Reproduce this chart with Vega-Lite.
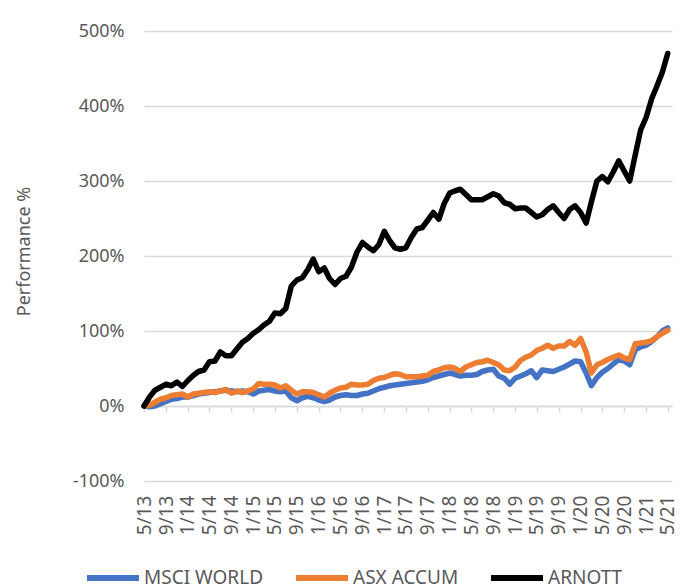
{
  "$schema": "https://vega.github.io/schema/vega-lite/v6.json",
  "autosize": {"type": "none"},
  "width": 528,
  "height": 450,
  "padding": {"left": 144, "top": 31, "right": 21, "bottom": 106},
  "background": "white",
  "config": {
    "view": {"stroke": null},
    "font": "Noto Sans"
  },
  "data": {
    "format": {"parse": {"d": "date:'%Y-%m'"}},
    "values": [
      {"d":"2013-05","msci":0,"asx":0,"arnott":0},
      {"d":"2013-06","msci":-1,"asx":1,"arnott":12},
      {"d":"2013-07","msci":0,"asx":5,"arnott":21},
      {"d":"2013-08","msci":3,"asx":9,"arnott":25},
      {"d":"2013-09","msci":6,"asx":11,"arnott":29},
      {"d":"2013-10","msci":9,"asx":14,"arnott":27},
      {"d":"2013-11","msci":10,"asx":15,"arnott":32},
      {"d":"2013-12","msci":12,"asx":16,"arnott":26},
      {"d":"2014-01","msci":12,"asx":12,"arnott":34},
      {"d":"2014-02","msci":14,"asx":16,"arnott":41},
      {"d":"2014-03","msci":16,"asx":17,"arnott":46},
      {"d":"2014-04","msci":17,"asx":18,"arnott":48},
      {"d":"2014-05","msci":18,"asx":19,"arnott":59},
      {"d":"2014-06","msci":19,"asx":18,"arnott":60},
      {"d":"2014-07","msci":20,"asx":20,"arnott":72},
      {"d":"2014-08","msci":21,"asx":22,"arnott":67},
      {"d":"2014-09","msci":20,"asx":17,"arnott":67},
      {"d":"2014-10","msci":19,"asx":20,"arnott":76},
      {"d":"2014-11","msci":20,"asx":18,"arnott":85},
      {"d":"2014-12","msci":19,"asx":20,"arnott":90},
      {"d":"2015-01","msci":16,"asx":23,"arnott":97},
      {"d":"2015-02","msci":20,"asx":30,"arnott":102},
      {"d":"2015-03","msci":21,"asx":29,"arnott":108},
      {"d":"2015-04","msci":22,"asx":29,"arnott":113},
      {"d":"2015-05","msci":20,"asx":28,"arnott":124},
      {"d":"2015-06","msci":19,"asx":24,"arnott":123},
      {"d":"2015-07","msci":20,"asx":27,"arnott":130},
      {"d":"2015-08","msci":11,"asx":21,"arnott":160},
      {"d":"2015-09","msci":7,"asx":16,"arnott":168},
      {"d":"2015-10","msci":11,"asx":19,"arnott":171},
      {"d":"2015-11","msci":13,"asx":19,"arnott":182},
      {"d":"2015-12","msci":11,"asx":18,"arnott":196},
      {"d":"2016-01","msci":8,"asx":15,"arnott":179},
      {"d":"2016-02","msci":6,"asx":12,"arnott":184},
      {"d":"2016-03","msci":8,"asx":17,"arnott":170},
      {"d":"2016-04","msci":12,"asx":21,"arnott":162},
      {"d":"2016-05","msci":14,"asx":24,"arnott":170},
      {"d":"2016-06","msci":15,"asx":25,"arnott":173},
      {"d":"2016-07","msci":14,"asx":29,"arnott":185},
      {"d":"2016-08","msci":14,"asx":28,"arnott":205},
      {"d":"2016-09","msci":16,"asx":28,"arnott":218},
      {"d":"2016-10","msci":17,"asx":29,"arnott":212},
      {"d":"2016-11","msci":20,"asx":34,"arnott":207},
      {"d":"2016-12","msci":23,"asx":37,"arnott":215},
      {"d":"2017-01","msci":25,"asx":38,"arnott":233},
      {"d":"2017-02","msci":27,"asx":41,"arnott":220},
      {"d":"2017-03","msci":28,"asx":43,"arnott":211},
      {"d":"2017-04","msci":29,"asx":42,"arnott":209},
      {"d":"2017-05","msci":30,"asx":39,"arnott":211},
      {"d":"2017-06","msci":31,"asx":39,"arnott":225},
      {"d":"2017-07","msci":32,"asx":39,"arnott":236},
      {"d":"2017-08","msci":33,"asx":40,"arnott":238},
      {"d":"2017-09","msci":35,"asx":41,"arnott":248},
      {"d":"2017-10","msci":38,"asx":46,"arnott":258},
      {"d":"2017-11","msci":40,"asx":48,"arnott":249},
      {"d":"2017-12","msci":42,"asx":51,"arnott":270},
      {"d":"2018-01","msci":44,"asx":52,"arnott":284},
      {"d":"2018-02","msci":42,"asx":50,"arnott":287},
      {"d":"2018-03","msci":40,"asx":46,"arnott":289},
      {"d":"2018-04","msci":41,"asx":52,"arnott":282},
      {"d":"2018-05","msci":41,"asx":55,"arnott":275},
      {"d":"2018-06","msci":42,"asx":58,"arnott":275},
      {"d":"2018-07","msci":46,"asx":59,"arnott":275},
      {"d":"2018-08","msci":48,"asx":61,"arnott":279},
      {"d":"2018-09","msci":49,"asx":58,"arnott":283},
      {"d":"2018-10","msci":40,"asx":55,"arnott":280},
      {"d":"2018-11","msci":37,"asx":48,"arnott":271},
      {"d":"2018-12","msci":29,"asx":47,"arnott":269},
      {"d":"2019-01","msci":37,"asx":52,"arnott":263},
      {"d":"2019-02","msci":40,"asx":61,"arnott":264},
      {"d":"2019-03","msci":43,"asx":65,"arnott":264},
      {"d":"2019-04","msci":47,"asx":68,"arnott":258},
      {"d":"2019-05","msci":38,"asx":74,"arnott":252},
      {"d":"2019-06","msci":48,"asx":77,"arnott":255},
      {"d":"2019-07","msci":47,"asx":81,"arnott":262},
      {"d":"2019-08","msci":46,"asx":77,"arnott":267},
      {"d":"2019-09","msci":49,"asx":80,"arnott":258},
      {"d":"2019-10","msci":52,"asx":80,"arnott":250},
      {"d":"2019-11","msci":56,"asx":86,"arnott":262},
      {"d":"2019-12","msci":60,"asx":81,"arnott":267},
      {"d":"2020-01","msci":59,"asx":90,"arnott":258},
      {"d":"2020-02","msci":44,"asx":72,"arnott":244},
      {"d":"2020-03","msci":27,"asx":44,"arnott":272},
      {"d":"2020-04","msci":38,"asx":55,"arnott":300},
      {"d":"2020-05","msci":45,"asx":58,"arnott":306},
      {"d":"2020-06","msci":50,"asx":62,"arnott":299},
      {"d":"2020-07","msci":56,"asx":65,"arnott":312},
      {"d":"2020-08","msci":62,"asx":68,"arnott":327},
      {"d":"2020-09","msci":60,"asx":64,"arnott":313},
      {"d":"2020-10","msci":55,"asx":62,"arnott":300},
      {"d":"2020-11","msci":75,"asx":83,"arnott":335},
      {"d":"2020-12","msci":79,"asx":84,"arnott":368},
      {"d":"2021-01","msci":81,"asx":85,"arnott":385},
      {"d":"2021-02","msci":86,"asx":87,"arnott":410},
      {"d":"2021-03","msci":92,"asx":92,"arnott":426},
      {"d":"2021-04","msci":100,"asx":97,"arnott":445},
      {"d":"2021-05","msci":104,"asx":101,"arnott":470}
    ]
  },
  "transform": [
    {"fold": ["msci", "asx", "arnott"], "as": ["series", "value"]}
  ],
  "mark": {"type": "line", "strokeWidth": 5.5, "strokeJoin": "round", "strokeCap": "round"},
  "encoding": {
    "x": {
      "field": "d",
      "type": "temporal",
      "scale": {"domain": [{"year": 2013, "month": 5, "date": 1}, {"year": 2021, "month": 5, "date": 25}]},
      "axis": {
        "title": null,
        "values": [
          {"year":2013,"month":5,"date":1},{"year":2013,"month":9,"date":1},
          {"year":2014,"month":1,"date":1},{"year":2014,"month":5,"date":1},{"year":2014,"month":9,"date":1},
          {"year":2015,"month":1,"date":1},{"year":2015,"month":5,"date":1},{"year":2015,"month":9,"date":1},
          {"year":2016,"month":1,"date":1},{"year":2016,"month":5,"date":1},{"year":2016,"month":9,"date":1},
          {"year":2017,"month":1,"date":1},{"year":2017,"month":5,"date":1},{"year":2017,"month":9,"date":1},
          {"year":2018,"month":1,"date":1},{"year":2018,"month":5,"date":1},{"year":2018,"month":9,"date":1},
          {"year":2019,"month":1,"date":1},{"year":2019,"month":5,"date":1},{"year":2019,"month":9,"date":1},
          {"year":2020,"month":1,"date":1},{"year":2020,"month":5,"date":1},{"year":2020,"month":9,"date":1},
          {"year":2021,"month":1,"date":1},{"year":2021,"month":5,"date":1}
        ],
        "format": "%-m/%y",
        "formatType": "time",
        "labelAngle": -90,
        "labelAlign": "right",
        "labelBaseline": "middle",
        "labelFontSize": 19,
        "labelColor": "#595959",
        "labelPadding": 83,
        "labelOverlap": false,
        "labelFlush": false,
        "offset": -75,
        "grid": false,
        "domainColor": "#d9d9d9",
        "domainWidth": 1.5,
        "tickColor": "#d9d9d9",
        "tickWidth": 1.5,
        "tickSize": 6
      }
    },
    "y": {
      "field": "value",
      "type": "quantitative",
      "scale": {"domain": [-100, 500], "nice": false, "zero": false},
      "axis": {
        "title": "Performance %",
        "titleFontSize": 18,
        "titleFontWeight": "normal",
        "titleColor": "#595959",
        "titleX": -120,
        "titleY": 220,
        "titleAlign": "center",
        "titleBaseline": "middle",
        "titleAngle": -90,
        "values": [-100, 0, 100, 200, 300, 400, 500],
        "labelExpr": "datum.value + '%'",
        "labelFontSize": 18,
        "labelColor": "#595959",
        "labelPadding": 20,
        "domain": false,
        "ticks": false,
        "grid": true,
        "gridColor": "#d9d9d9",
        "gridWidth": 1.5
      }
    },
    "color": {
      "field": "series",
      "type": "nominal",
      "sort": ["msci", "asx", "arnott"],
      "scale": {"domain": ["msci", "asx", "arnott"], "range": ["#4472c4", "#ed7d31", "#000000"]},
      "legend": {
        "title": null,
        "orient": "none",
        "direction": "horizontal",
        "legendX": -60,
        "legendY": 518,
        "symbolType": "stroke",
        "symbolSize": 2700,
        "symbolStrokeWidth": 6,
        "labelExpr": "datum.label == 'msci' ? 'MSCI WORLD' : datum.label == 'asx' ? 'ASX ACCUM' : 'ARNOTT'",
        "labelFontSize": 19,
        "labelColor": "#595959",
        "labelOffset": 2,
        "columnPadding": 20
      }
    }
  }
}
